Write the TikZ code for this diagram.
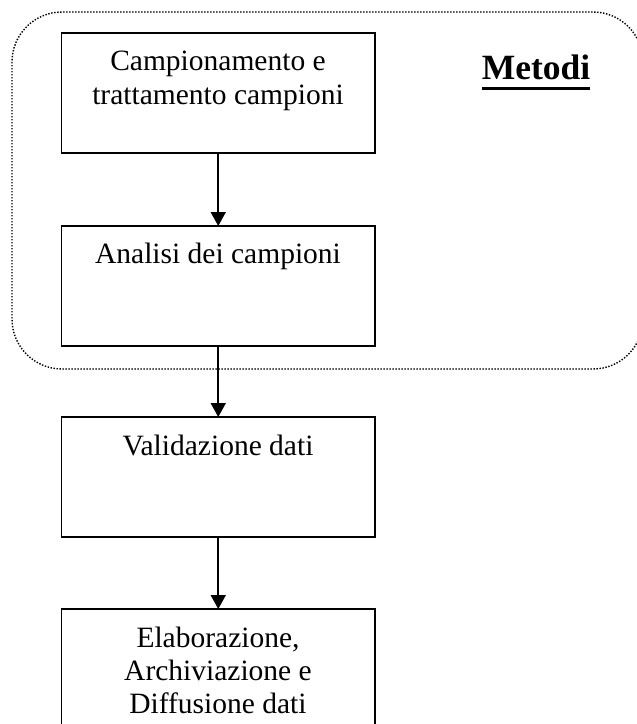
\documentclass[tikz,border=0pt]{standalone}
\usepackage{fontspec}
\setmainfont{Liberation Serif}
\usetikzlibrary{arrows.meta}
\begin{document}
\begin{tikzpicture}[x=1pt,y=1pt,
  stepbox/.style={draw=black, line width=1.8pt, rectangle, inner sep=0pt, outer sep=0pt,
    minimum width=313.5pt, minimum height=120pt},
  txt/.style={inner sep=0pt, outer sep=0pt, align=center,
    font=\fontsize{29.5}{33.5}\selectfont},
  flow/.style={line width=1.8pt, -{Triangle[width=15pt,length=14pt]}},
  dotborder/.style={line width=1.4pt, dash pattern=on 1.4pt off 1.6pt, rounded corners=50pt}]
\useasboundingbox (0,0) rectangle (637,-724);
\clip (0,0) rectangle (637,-724);
\fill[white] (0,0) rectangle (637,-724);
% dotted group
\draw[dotborder] (12,-12) rectangle (643,-369);
% boxes
\node[stepbox] (b1) at (218.25,-93) {};
\node[stepbox] (b2) at (218.25,-286) {};
\node[stepbox] (b3) at (218.25,-477) {};
\node[stepbox, minimum height=131pt] (b4) at (218.25,-674.5) {};
% texts
\node[txt, anchor=base] (t1a) at (218,-70.7) {Campionamento e};
\node[txt, anchor=base] (t1b) at (218,-104.2) {trattamento campioni};
\node[txt, anchor=base] (t2) at (218,-263) {Analisi dei campioni};
\node[txt, anchor=base] (t3) at (218,-455) {Validazione dati};
\node[txt, anchor=base] (t4a) at (218,-647) {Elaborazione,};
\node[txt, anchor=base] (t4b) at (218,-680) {Archiviazione e};
\node[txt, anchor=base] (t4c) at (218,-713) {Diffusione dati};
% Metodi
\node[inner sep=0pt, outer sep=0pt, anchor=base, font=\fontsize{35.5}{40}\selectfont\bfseries] (m) at (536,-79) {Metodi};
\fill ([yshift=-7.5pt]m.base west) rectangle ([yshift=-11pt]m.base east);
% arrows
\draw[flow] (b1.south) -- (b2.north);
\draw[flow] (b2.south) -- (b3.north);
\draw[flow] (b3.south) -- (b4.north);
\end{tikzpicture}
\end{document}
